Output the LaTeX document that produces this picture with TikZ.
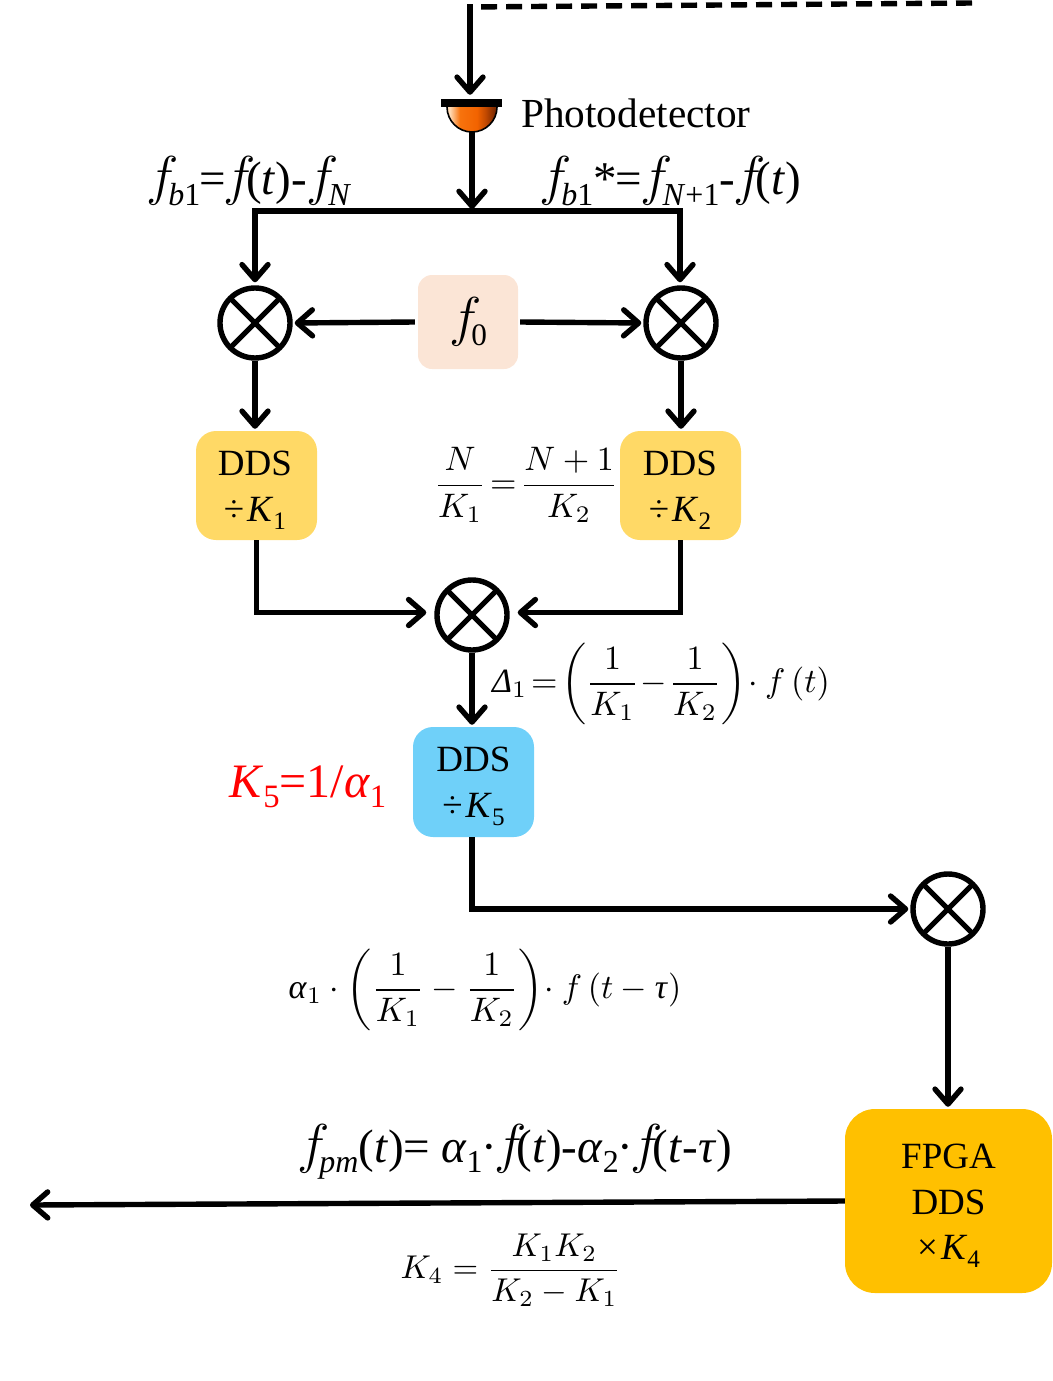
\documentclass[tikz,border=0pt]{standalone}
\usepackage{amsmath}
\usepackage{graphicx}
\usepackage{fontspec}
\setmainfont{Liberation Serif}
\usetikzlibrary{arrows.meta,shadings}
\definecolor{cfz}{HTML}{FBE5D6}
\definecolor{cdds}{HTML}{FFD966}
\definecolor{cblue}{HTML}{6FD0F9}
\definecolor{cfpga}{HTML}{FFC000}
\pgfdeclarehorizontalshading{pdshade}{100bp}{
  rgb(0bp)=(1,0.85,0.7); rgb(28bp)=(1,0.85,0.7); rgb(38bp)=(0.97,0.45,0.05);
  rgb(55bp)=(0.95,0.39,0); rgb(64bp)=(0.75,0.28,0); rgb(72bp)=(0.5,0.17,0); rgb(100bp)=(0.5,0.17,0)}
\newcommand{\lowsub}[1]{\raisebox{-0.22em}{\fontsize{0.68em}{0.7em}\selectfont #1}}
\newcommand{\ti}[1]{\textit{#1}}
\newcommand{\ff}{\scalebox{2.2}{$f$}\kern-10pt}
\tikzset{
  wire/.style={line width=5.4pt,line join=miter},
  arr/.style={wire,shorten >=2pt,-{Straight Barb[length=15pt,width=26pt,round]}},
  mixer/.style={circle,draw,line width=5.4pt,minimum size=70pt,inner sep=0pt,
    path picture={\draw[line width=5pt]
      ([shift={(45:40pt)}]path picture bounding box.center)--([shift={(225:40pt)}]path picture bounding box.center)
      ([shift={(135:40pt)}]path picture bounding box.center)--([shift={(315:40pt)}]path picture bounding box.center);}},
  ddsbox/.style={rounded corners=20pt,minimum width=121pt,minimum height=109pt,inner sep=0pt},
  ddstext/.style={align=center,inner sep=0pt,font=\fontsize{37}{46}\selectfont},
  lab/.style={inner sep=0pt,font=\fontsize{47}{52}\selectfont},
  eq/.style={inner sep=0pt,scale=3.4},
}
\begin{document}
\begin{tikzpicture}[x=1pt,y=-1pt]
\useasboundingbox (0,0) rectangle (1052,1381);
% top fibre
\coordinate (dashend) at (972,3);
\coordinate (corner) at (470,7);
\draw[wire,dash pattern=on 16pt off 9pt] (dashend) -- (corner);
\node[fill=black,minimum width=61pt,minimum height=8pt,inner sep=0pt] (pd) at (471.5,103) {};
\draw[arr,shorten >=4pt] (corner) ++(0,-2.7) -- (pd.north -| corner);
% detector
\shade[shading=pdshade]
  (447,107) arc[start angle=180,end angle=0,radius=25] -- cycle;
\draw[line width=1.6pt] (447,107) arc[start angle=180,end angle=0,radius=25];
\coordinate (cup) at (472,132);
\node[anchor=west,inner sep=0pt,font=\fontsize{41.3}{44}\selectfont] (pdlab) at (521,113) {Photodetector};
% nodes
\coordinate (bus) at (472,211);
\coordinate (busL) at (255,211);
\coordinate (busR) at (680,211);
\node[mixer] (m1) at (255,323) {};
\node[mixer] (m2) at (681,323) {};
\node[mixer] (m3) at (472,615) {};
\node[mixer] (m4) at (948,909) {};
\node[fill=cfz,rounded corners=14pt,minimum width=100pt,minimum height=94pt,inner sep=0pt,font=\fontsize{46}{50}\selectfont] (f0) at (468,322) {\ff\lowsub{0}};
\node[ddsbox,fill=cdds] (d1) at (256.5,485.5) {};
\node[ddstext] (t1) at (255,490) {DDS\\[0pt]÷\kern3pt\ti{K}\lowsub{1}};
\node[ddsbox,fill=cdds] (d2) at (680.5,485.5) {};
\node[ddstext] (t2) at (680,490) {DDS\\[0pt]÷\kern3pt\ti{K}\lowsub{2}};
\node[ddsbox,fill=cblue,minimum height=110pt] (d5) at (473.5,782) {};
\node[ddstext] (t5) at (473.5,786) {DDS\\[0pt]÷\kern3pt\ti{K}\lowsub{5}};
\node[fill=cfpga,rounded corners=30pt,minimum width=207pt,minimum height=184pt,inner sep=0pt] (fp) at (948.5,1201) {};
\node[ddstext,font=\fontsize{37}{45.5}\selectfont] (tf) at (948.5,1206) {FPGA\\DDS\\×\kern3pt\ti{K}\lowsub{4}};
\coordinate (out) at (30,1205);
\coordinate (m3L) at ([yshift=2.5pt]m3.west);
\coordinate (m3R) at ([yshift=2.5pt]m3.east);
% connectors
\draw[arr] (cup) -- (bus);
\draw[wire] (busL) -- (busR);
\draw[arr,shorten >=3pt] (busL) ++(0,-2.7) -- (m1.north);
\draw[arr,shorten >=3pt] (busR) ++(0,-2.7) -- (m2.north -| busR);
\draw[arr] (f0.west) ++(-3,0) -- (m1.east);
\draw[arr] (f0.east) ++(2,0) -- (m2.west);
\draw[arr] (m1.south) -- (d1.north -| m1.south);
\draw[arr] (m2.south) -- (d2.north -| m2.south);
\draw[arr,shorten >=8pt] (d1.south) |- (m3L);
\draw[arr,shorten >=8pt] (d2.south) |- (m3R);
\draw[arr] (m3.south) -- (d5.north -| m3.south);
\draw[arr] (d5.south -| m3.south) |- (m4.west);
\draw[arr] (m4.south) -- (fp.north -| m4.south);
\draw[arr,shorten >=0pt] (fp.west) -- (out);
% labels
\node[lab,anchor=west] (l1) at (146,181) {\ff\lowsub{\ti{b}1}\kern-1pt=\kern-2pt\ff(\ti{t})-\kern-1pt\ff\lowsub{\ti{N}}};
\node[lab,anchor=west] (l2) at (539,181) {\ff\lowsub{\ti{b}1}*\kern-1pt=\kern-2pt\ff\lowsub{\ti{N}+1}-\kern-2pt\ff(\ti{t})};
\node[lab,anchor=west,text=red,font=\fontsize{48}{52}\selectfont] (l3) at (229,787) {\ti{K}\lowsub{5}=1/\ti{α}\lowsub{1}};
\node[lab,anchor=west] (l4) at (297,1152) {\ff\lowsub{\ti{pm}}(\ti{t})=\kern-1pt\ \ti{α}\lowsub{1}\kern-1pt·\kern-3pt\ff(\ti{t})-\ti{α}\lowsub{2}\kern-1pt·\kern-3pt\ff(\ti{t}-\ti{τ})};
\node[eq] (e1) at (526,485) {$\dfrac{N}{K_1}\!=\!\dfrac{N+1}{K_2}$};
\node[eq] (e2) at (661,684) {\ti{Δ}$_1\!=\!\left(\dfrac{1}{K_1}\!-\!\dfrac{1}{K_2}\right)\!\cdot f\,(t)$};
\node[eq] (e3) at (485,990) {\hbox{\ti{α}$_1\cdot\left(\dfrac{1}{K_1}-\dfrac{1}{K_2}\right)\!\cdot f\,(t-{}$\ti{τ}$)$}};
\node[eq,scale=0.97] (e4) at (511,1270) {$K_4=\dfrac{K_1K_2}{K_2-K_1}$};
\end{tikzpicture}
\end{document}
